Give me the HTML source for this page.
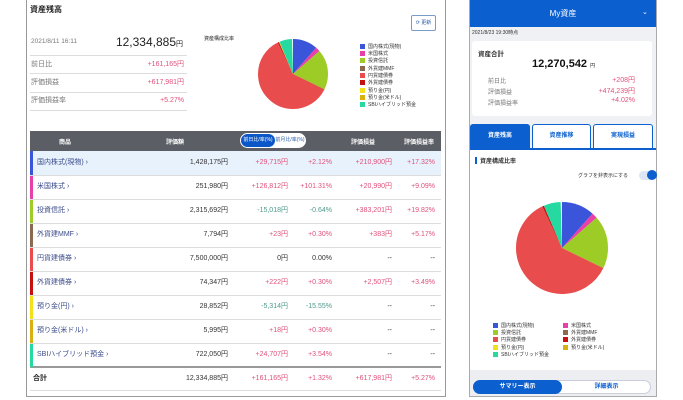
<!DOCTYPE html>
<html><head><meta charset="utf-8"><style>
*{margin:0;padding:0;box-sizing:border-box}
body{width:683px;height:400px;background:#fff;position:relative;overflow:hidden;font-family:"Liberation Sans","Noto Sans CJK JP",sans-serif;color:#333}
.a{position:absolute;white-space:nowrap}
.t{font-size:7px;line-height:8px}
.p{color:#e0507a}.g{color:#4e9a8c}
.r{text-align:right}
.lg div{position:absolute;font-size:5px;line-height:6px;white-space:nowrap}
.lg i{display:inline-block;width:5px;height:5px;margin-right:3px;vertical-align:-1px}
</style></head><body>
<!-- LEFT PANEL -->
<div class="a" style="left:26px;top:0;width:420px;height:397px;border:1px solid #999;border-top:none"></div>
<div class="a" style="left:30px;top:4px;font-size:8px;font-weight:bold;color:#222">資産残高</div>
<div class="a" style="left:411px;top:15px;width:25px;height:16px;border:1px solid #7a9cc8;border-radius:2px;font-size:5px;color:#2a5cab;text-align:center;line-height:14px">⟳ 更新</div>
<div class="a t" style="left:31px;top:38px;color:#777;font-size:6.5px">2021/8/11 16:11</div>
<div class="a" style="left:110px;top:35px;width:73px;text-align:right;font-size:12px;color:#222">12,334,885<span style="font-size:7px">円</span></div>
<div class="a" style="left:30px;top:55px;width:157px;border-top:1px solid #ddd"></div>
<div class="a t" style="left:31px;top:61px;color:#777">前日比</div><div class="a t p r" style="left:120px;top:61px;width:64px">+161,165円</div>
<div class="a" style="left:30px;top:73px;width:157px;border-top:1px solid #ddd"></div>
<div class="a t" style="left:31px;top:79px;color:#777">評価損益</div><div class="a t p r" style="left:120px;top:79px;width:64px">+617,981円</div>
<div class="a" style="left:30px;top:92px;width:157px;border-top:1px solid #ddd"></div>
<div class="a t" style="left:31px;top:97px;color:#777">評価損益率</div><div class="a t p r" style="left:120px;top:97px;width:64px">+5.27%</div>
<div class="a" style="left:30px;top:110px;width:157px;border-top:1px solid #ddd"></div>
<div class="a" style="left:204px;top:35px;font-size:5px;color:#222">資産構成比率</div>
<div class="lg">
<div style="left:360px;top:44px"><i style="background:#3a55d9"></i>国内株式(現物)</div>
<div style="left:360px;top:51px"><i style="background:#e83fa8"></i>米国株式</div>
<div style="left:360px;top:58px"><i style="background:#9ccc25"></i>投資信託</div>
<div style="left:360px;top:66px"><i style="background:#8a6a50"></i>外貨建MMF</div>
<div style="left:360px;top:73px"><i style="background:#e84c4c"></i>円貨建債券</div>
<div style="left:360px;top:80px"><i style="background:#c41010"></i>外貨建債券</div>
<div style="left:360px;top:88px"><i style="background:#f2e01a"></i>預り金(円)</div>
<div style="left:360px;top:95px"><i style="background:#d8b010"></i>預り金(米ドル)</div>
<div style="left:360px;top:102px"><i style="background:#25d9a0"></i>SBIハイブリッド預金</div>
</div>
<!-- table header -->
<div class="a" style="left:30px;top:131px;width:411px;height:20px;background:#5b5e64"></div>
<div class="a" style="left:30px;top:137px;width:70px;text-align:center;font-size:6px;color:#fff;font-weight:bold">商品</div>
<div class="a" style="left:150px;top:137px;width:50px;text-align:center;font-size:6px;color:#fff;font-weight:bold">評価額</div>
<div class="a" style="left:240px;top:133px;width:66px;height:15px;background:#fff;border-radius:8px"></div>
<div class="a" style="left:241px;top:134px;width:34px;height:13px;background:#0b57c8;border-radius:7px;font-size:5px;color:#fff;text-align:center;line-height:13px">前日比/率(%)</div>
<div class="a" style="left:275px;top:134px;width:30px;height:13px;font-size:5px;color:#2a5cab;text-align:center;line-height:13px">前月比/率(%)</div>
<div class="a" style="left:338px;top:137px;width:50px;text-align:center;font-size:6px;color:#fff;font-weight:bold">評価損益</div>
<div class="a" style="left:396px;top:137px;width:46px;text-align:center;font-size:6px;color:#fff;font-weight:bold">評価損益率</div>
<div class="a" style="left:30px;top:151px;width:411px;height:24px;background:#e8f2fc"></div>
<div class="a" style="left:30px;top:366px;width:411px;height:2px;background:#999"></div>
<div class="a t" style="left:33px;top:375px;font-weight:bold;color:#222">合計</div>
<div class="a t r" style="left:150px;top:375px;width:78px">12,334,885円</div>
<div class="a t p r" style="left:230px;top:375px;width:58px">+161,165円</div>
<div class="a t p r" style="left:290px;top:375px;width:42px">+1.32%</div>
<div class="a t p r" style="left:330px;top:375px;width:62px">+617,981円</div>
<div class="a t p r" style="left:395px;top:375px;width:40px">+5.27%</div>
<div class="a" style="left:30px;top:390px;width:411px;border-top:1px solid #ddd"></div>
<!-- RIGHT PANEL -->
<div class="a" style="left:469px;top:0;width:188px;height:397px;border:1px solid #aaa;border-top:none;background:#f0f1f4"></div>
<div class="a" style="left:470px;top:0;width:186px;height:27px;background:#0b5fcf;color:#fff;font-size:8px;text-align:center;line-height:27px">My資産</div>
<div class="a" style="left:642px;top:8px;color:#fff;font-size:7px">⌄</div>
<div class="a" style="left:472px;top:29px;font-size:5px;color:#333">2021/8/23 19:30時点</div>
<div class="a" style="left:472px;top:41px;width:180px;height:75px;background:#fff;border-radius:3px"></div>
<div class="a" style="left:478px;top:48px;font-size:6.5px;font-weight:bold">資産合計</div>
<div class="a" style="left:532px;top:58px;font-size:11px;font-weight:bold;color:#111">12,270,542 <span style="font-size:5px;font-weight:normal">円</span></div>
<div class="a" style="left:488px;top:76px;font-size:6px;color:#777">前日比</div><div class="a p r" style="left:580px;top:75px;width:55px;font-size:7px">+208円</div>
<div class="a" style="left:488px;top:87px;font-size:6px;color:#777">評価損益</div><div class="a p r" style="left:580px;top:86px;width:55px;font-size:7px">+474,239円</div>
<div class="a" style="left:488px;top:98px;font-size:6px;color:#777">評価損益率</div><div class="a p r" style="left:580px;top:97px;width:55px;font-size:7px">+4.02%</div>
<div class="a" style="left:470px;top:124px;width:60px;height:25px;background:#0b5fcf;border-radius:3px 3px 0 0;color:#fff;font-size:6px;font-weight:bold;text-align:center;line-height:25px">資産残高</div>
<div class="a" style="left:532px;top:124px;width:59px;height:25px;background:#fff;border:1px solid #0b5fcf;border-radius:3px 3px 0 0;color:#0b5fcf;font-size:6px;font-weight:bold;text-align:center;line-height:23px">資産推移</div>
<div class="a" style="left:593px;top:124px;width:60px;height:25px;background:#fff;border:1px solid #0b5fcf;border-radius:3px 3px 0 0;color:#0b5fcf;font-size:6px;font-weight:bold;text-align:center;line-height:23px">実現損益</div>
<div class="a" style="left:470px;top:148px;width:186px;height:2px;background:#0b5fcf"></div>
<div class="a" style="left:470px;top:150px;width:186px;height:220px;background:#fff"></div>
<div class="a" style="left:475px;top:157px;width:2px;height:7px;background:#0b5fcf"></div>
<div class="a" style="left:480px;top:156px;font-size:6px;font-weight:bold">資産構成比率</div>
<div class="a" style="left:578px;top:172px;font-size:5px;color:#333">グラフを非表示にする</div>
<div class="a" style="left:639px;top:171px;width:17px;height:9px;background:#dde6f3;border-radius:5px"></div>
<div class="a" style="left:647px;top:170px;width:10px;height:10px;background:#0b5fcf;border-radius:50%"></div>
<div class="lg">
<div style="left:493px;top:323px"><i style="background:#3a55d9"></i>国内株式(現物)</div>
<div style="left:563px;top:323px"><i style="background:#e83fa8"></i>米国株式</div>
<div style="left:493px;top:330px"><i style="background:#9ccc25"></i>投資信託</div>
<div style="left:563px;top:330px"><i style="background:#8a6a50"></i>外貨建MMF</div>
<div style="left:493px;top:337px"><i style="background:#e84c4c"></i>円貨建債券</div>
<div style="left:563px;top:337px"><i style="background:#c41010"></i>外貨建債券</div>
<div style="left:493px;top:345px"><i style="background:#f2e01a"></i>預り金(円)</div>
<div style="left:563px;top:345px"><i style="background:#d8b010"></i>預り金(米ドル)</div>
<div style="left:493px;top:352px"><i style="background:#25d9a0"></i>SBIハイブリッド預金</div>
</div>
<div class="a" style="left:470px;top:370px;width:186px;height:26px;background:#eceef2"></div>
<div class="a" style="left:473px;top:380px;width:178px;height:14px;background:#fff;border:1px solid #ccd;border-radius:7px"></div>
<div class="a" style="left:473px;top:380px;width:89px;height:14px;background:#0b5fcf;border-radius:7px;color:#fff;font-size:6px;font-weight:bold;text-align:center;line-height:14px">サマリー表示</div>
<div class="a" style="left:562px;top:380px;width:89px;height:14px;color:#0b5fcf;font-size:6px;font-weight:bold;text-align:center;line-height:14px">詳細表示</div>

<!-- table rows -->
<div class="a" style="left:30px;top:151px;width:3px;height:24px;background:#3a55d9"></div>
<div class="a" style="left:30px;top:175px;width:3px;height:24px;background:#e83fa8"></div>
<div class="a" style="left:30px;top:199px;width:3px;height:24px;background:#9ccc25"></div>
<div class="a" style="left:30px;top:223px;width:3px;height:24px;background:#8a6a50"></div>
<div class="a" style="left:30px;top:247px;width:3px;height:24px;background:#e84c4c"></div>
<div class="a" style="left:30px;top:271px;width:3px;height:24px;background:#c41010"></div>
<div class="a" style="left:30px;top:295px;width:3px;height:24px;background:#f2e01a"></div>
<div class="a" style="left:30px;top:319px;width:3px;height:24px;background:#d8b010"></div>
<div class="a" style="left:30px;top:343px;width:3px;height:24px;background:#25d9a0"></div>
<div class="a" style="left:30px;top:175px;width:411px;border-top:1px solid #ddd"></div>
<div class="a" style="left:30px;top:199px;width:411px;border-top:1px solid #ddd"></div>
<div class="a" style="left:30px;top:223px;width:411px;border-top:1px solid #ddd"></div>
<div class="a" style="left:30px;top:247px;width:411px;border-top:1px solid #ddd"></div>
<div class="a" style="left:30px;top:271px;width:411px;border-top:1px solid #ddd"></div>
<div class="a" style="left:30px;top:295px;width:411px;border-top:1px solid #ddd"></div>
<div class="a" style="left:30px;top:319px;width:411px;border-top:1px solid #ddd"></div>
<div class="a" style="left:30px;top:343px;width:411px;border-top:1px solid #ddd"></div>

<div class="a t" style="left:37px;top:159px;color:#3a4a8a">国内株式(現物) ›</div><div class="a t r" style="left:150px;top:159px;width:78px">1,428,175円</div><div class="a t p r" style="left:230px;top:159px;width:58px">+29,715円</div><div class="a t p r" style="left:290px;top:159px;width:42px">+2.12%</div><div class="a t p r" style="left:330px;top:159px;width:62px">+210,900円</div><div class="a t p r" style="left:395px;top:159px;width:40px">+17.32%</div>
<div class="a t" style="left:37px;top:183px;color:#3a4a8a">米国株式 ›</div><div class="a t r" style="left:150px;top:183px;width:78px">251,980円</div><div class="a t p r" style="left:230px;top:183px;width:58px">+126,812円</div><div class="a t p r" style="left:290px;top:183px;width:42px">+101.31%</div><div class="a t p r" style="left:330px;top:183px;width:62px">+20,990円</div><div class="a t p r" style="left:395px;top:183px;width:40px">+9.09%</div>
<div class="a t" style="left:37px;top:207px;color:#3a4a8a">投資信託 ›</div><div class="a t r" style="left:150px;top:207px;width:78px">2,315,692円</div><div class="a t g r" style="left:230px;top:207px;width:58px">-15,018円</div><div class="a t g r" style="left:290px;top:207px;width:42px">-0.64%</div><div class="a t p r" style="left:330px;top:207px;width:62px">+383,201円</div><div class="a t p r" style="left:395px;top:207px;width:40px">+19.82%</div>
<div class="a t" style="left:37px;top:231px;color:#3a4a8a">外貨建MMF ›</div><div class="a t r" style="left:150px;top:231px;width:78px">7,794円</div><div class="a t p r" style="left:230px;top:231px;width:58px">+23円</div><div class="a t p r" style="left:290px;top:231px;width:42px">+0.30%</div><div class="a t p r" style="left:330px;top:231px;width:62px">+383円</div><div class="a t p r" style="left:395px;top:231px;width:40px">+5.17%</div>
<div class="a t" style="left:37px;top:255px;color:#3a4a8a">円貨建債券 ›</div><div class="a t r" style="left:150px;top:255px;width:78px">7,500,000円</div><div class="a t r" style="left:230px;top:255px;width:58px">0円</div><div class="a t r" style="left:290px;top:255px;width:42px">0.00%</div><div class="a t r" style="left:330px;top:255px;width:62px">--</div><div class="a t r" style="left:395px;top:255px;width:40px">--</div>
<div class="a t" style="left:37px;top:279px;color:#3a4a8a">外貨建債券 ›</div><div class="a t r" style="left:150px;top:279px;width:78px">74,347円</div><div class="a t p r" style="left:230px;top:279px;width:58px">+222円</div><div class="a t p r" style="left:290px;top:279px;width:42px">+0.30%</div><div class="a t p r" style="left:330px;top:279px;width:62px">+2,507円</div><div class="a t p r" style="left:395px;top:279px;width:40px">+3.49%</div>
<div class="a t" style="left:37px;top:303px;color:#3a4a8a">預り金(円) ›</div><div class="a t r" style="left:150px;top:303px;width:78px">28,852円</div><div class="a t g r" style="left:230px;top:303px;width:58px">-5,314円</div><div class="a t g r" style="left:290px;top:303px;width:42px">-15.55%</div><div class="a t r" style="left:330px;top:303px;width:62px">--</div><div class="a t r" style="left:395px;top:303px;width:40px">--</div>
<div class="a t" style="left:37px;top:327px;color:#3a4a8a">預り金(米ドル) ›</div><div class="a t r" style="left:150px;top:327px;width:78px">5,995円</div><div class="a t p r" style="left:230px;top:327px;width:58px">+18円</div><div class="a t p r" style="left:290px;top:327px;width:42px">+0.30%</div><div class="a t r" style="left:330px;top:327px;width:62px">--</div><div class="a t r" style="left:395px;top:327px;width:40px">--</div>
<div class="a t" style="left:37px;top:351px;color:#3a4a8a">SBIハイブリッド預金 ›</div><div class="a t r" style="left:150px;top:351px;width:78px">722,050円</div><div class="a t p r" style="left:230px;top:351px;width:58px">+24,707円</div><div class="a t p r" style="left:290px;top:351px;width:42px">+3.54%</div><div class="a t r" style="left:330px;top:351px;width:62px">--</div><div class="a t r" style="left:395px;top:351px;width:40px">--</div>

<svg class="a" style="left:0;top:0" width="683" height="400">
<g transform="rotate(-90 293 74)" fill="none" stroke-width="35">
<circle cx="293" cy="74" r="17.5" pathLength="100" stroke="#3a55d9" stroke-dasharray="11.58 100" stroke-dashoffset="0"/>
<circle cx="293" cy="74" r="17.5" pathLength="100" stroke="#e83fa8" stroke-dasharray="2.04 100" stroke-dashoffset="-11.58"/>
<circle cx="293" cy="74" r="17.5" pathLength="100" stroke="#9ccc25" stroke-dasharray="18.77 100" stroke-dashoffset="-13.62"/>
<circle cx="293" cy="74" r="17.5" pathLength="100" stroke="#8a6a50" stroke-dasharray="0.2 100" stroke-dashoffset="-32.39"/>
<circle cx="293" cy="74" r="17.5" pathLength="100" stroke="#e84c4c" stroke-dasharray="60.81 100" stroke-dashoffset="-32.45"/>
<circle cx="293" cy="74" r="17.5" pathLength="100" stroke="#c41010" stroke-dasharray="0.6 100" stroke-dashoffset="-93.26"/>
<circle cx="293" cy="74" r="17.5" pathLength="100" stroke="#f2d81a" stroke-dasharray="0.3 100" stroke-dashoffset="-93.86"/>
<circle cx="293" cy="74" r="17.5" pathLength="100" stroke="#25d9a0" stroke-dasharray="5.85 100" stroke-dashoffset="-94.15"/>
</g>
<g transform="rotate(-90 562 248)" fill="none" stroke-width="46">
<circle cx="562" cy="248" r="23" pathLength="100" stroke="#3a55d9" stroke-dasharray="11.6 100" stroke-dashoffset="0"/>
<circle cx="562" cy="248" r="23" pathLength="100" stroke="#e83fa8" stroke-dasharray="2.0 100" stroke-dashoffset="-11.6"/>
<circle cx="562" cy="248" r="23" pathLength="100" stroke="#9ccc25" stroke-dasharray="18.8 100" stroke-dashoffset="-13.6"/>
<circle cx="562" cy="248" r="23" pathLength="100" stroke="#e84c4c" stroke-dasharray="61.0 100" stroke-dashoffset="-32.4"/>
<circle cx="562" cy="248" r="23" pathLength="100" stroke="#c41010" stroke-dasharray="0.6 100" stroke-dashoffset="-93.4"/>
<circle cx="562" cy="248" r="23" pathLength="100" stroke="#25d9a0" stroke-dasharray="6.0 100" stroke-dashoffset="-94"/>
</g>
</svg>
</body></html>
